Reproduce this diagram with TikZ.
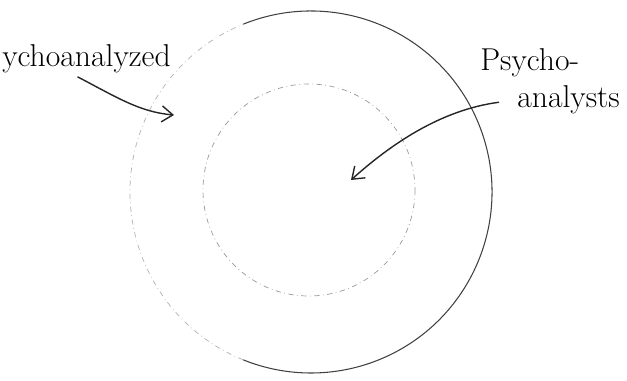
\documentclass[tikz,border=0pt]{standalone}
\usepackage{tikz}
\usetikzlibrary{arrows.meta, positioning, calc}

\begin{document}
\begin{tikzpicture}[x=0.02cm, y=-0.02cm,
  hand/.style={font=\fontsize{18}{20}\selectfont, inner sep=0pt},
  pointer/.style={thick, black!85, -{Straight Barb[length=2.2mm, width=3.2mm]}}]
  % Frame
  \useasboundingbox (0,0) rectangle (627,380);
  \coordinate (O) at (311,192);
  \coordinate (I) at (309,190);

  % Outer circle: firm on the right, faint on the left
  \draw[semithick, black!75] (O) ++(-112:181) arc[start angle=-112, end angle=112, radius=181];
  \draw[gray!60, dash dot] (O) ++(112:181) arc[start angle=112, end angle=248, radius=181];

  % Inner circle
  \draw[gray!80, dash dot] (I) circle[radius=106];

  % Labels
  \node[hand, anchor=base west] (analyzed) at (2,66) {ychoanalyzed};
  \node[hand, anchor=base west] (psycho) at (480,70) {Psycho-};
  \node[hand, anchor=base west] (analysts) at (517,107) {analysts};

  % Arrow tips
  \coordinate (tipOut) at (174,115);
  \coordinate (tipIn) at (351,180);

  % Arrows
  \draw[pointer] ($(analyzed.south)+(-9,4)$) .. controls (118,98) and (140,112) .. (tipOut);
  \draw[pointer] ($(analysts.west)+(-18,3)$) .. controls (440,110) and (390,145) .. (tipIn);
\end{tikzpicture}
\end{document}
